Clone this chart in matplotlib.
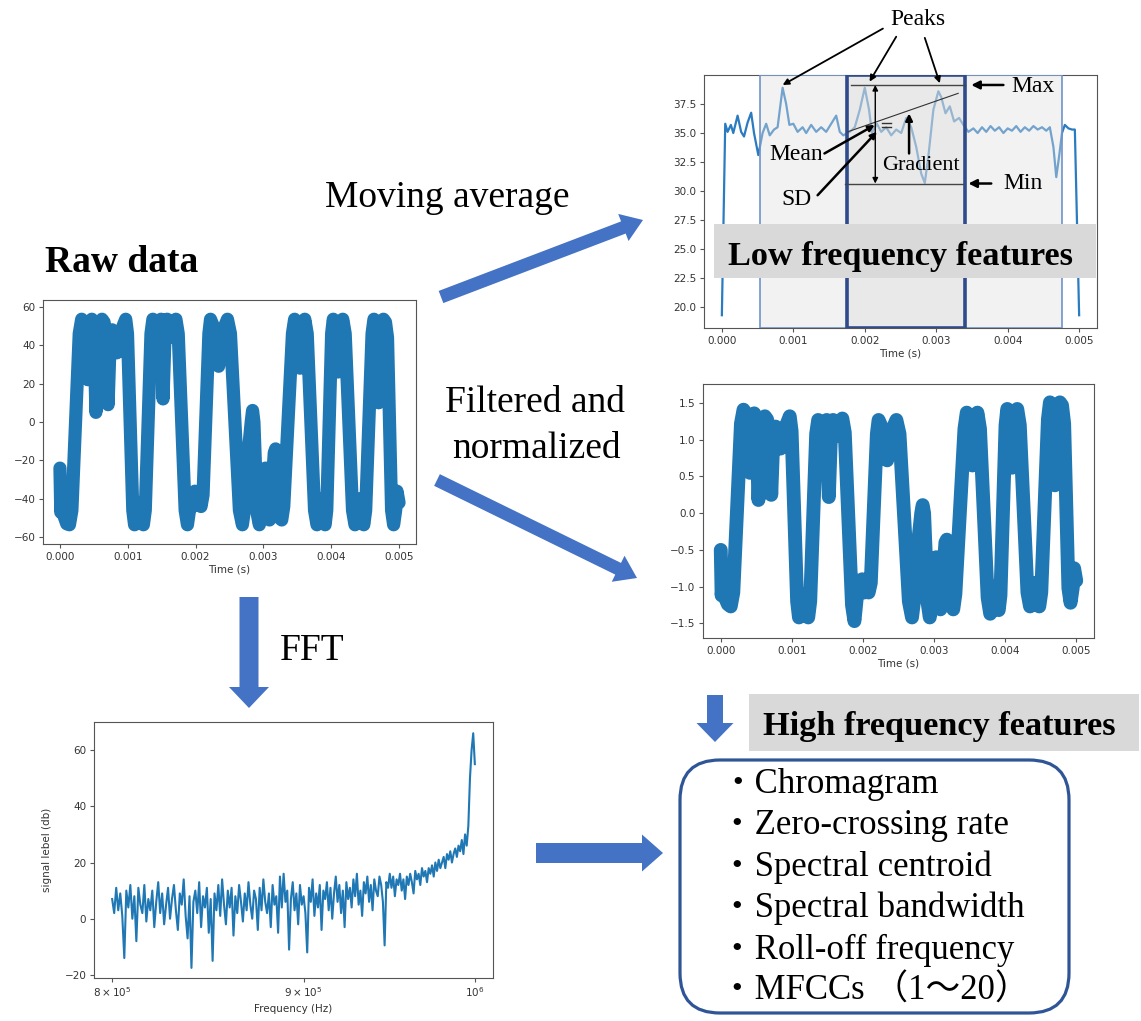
import numpy as np
import matplotlib
matplotlib.use("Agg")
import matplotlib.pyplot as plt
from matplotlib.patches import FancyArrow, FancyBboxPatch, Rectangle

# ---- values ----

# raw signal: centre of the thick band (time in ms)
raw_t_ms = [0.000, 0.012, 0.030, 0.060, 0.100, 0.140, 0.176, 0.284, 0.320, 0.350,
            0.380, 0.410, 0.440, 0.470, 0.500, 0.530, 0.560, 0.590, 0.620, 0.650,
            0.680, 0.710, 0.740, 0.770, 0.800, 0.820, 0.840, 0.860, 0.880, 0.900,
            0.930, 0.970, 0.996, 1.074, 1.100, 1.130, 1.160, 1.190, 1.230, 1.258,
            1.342, 1.370, 1.400, 1.430, 1.460, 1.490, 1.520, 1.550, 1.580, 1.610,
            1.640, 1.670, 1.710, 1.744, 1.846, 1.880, 1.910, 1.930, 1.960, 1.990,
            2.020, 2.050, 2.080, 2.110, 2.196, 2.220, 2.260, 2.300, 2.340, 2.380,
            2.430, 2.470, 2.514, 2.646, 2.690, 2.720, 2.760, 2.820, 2.840, 2.860,
            2.890, 2.910, 2.940, 2.970, 3.010, 3.030, 3.060, 3.090, 3.120, 3.160,
            3.180, 3.210, 3.240, 3.270, 3.300, 3.428, 3.460, 3.490, 3.520, 3.540,
            3.570, 3.610, 3.646, 3.754, 3.790, 3.820, 3.850, 3.880, 3.910, 3.934,
            4.006, 4.030, 4.060, 4.100, 4.130, 4.170, 4.206, 4.314, 4.350, 4.380,
            4.420, 4.450, 4.480, 4.508, 4.602, 4.630, 4.670, 4.700, 4.730, 4.770,
            4.800, 4.830, 4.890, 4.920, 4.950, 4.970, 5.000]
raw_amp = [-24, -47, -38, -49, -53, -53.5, -46, 46, 53.5, 52,
           44, 22, 46, 53.5, 50, 5, 40, 52, 53.5, 52,
           46, 9, 42, 48, 38, 46, 36, 45, 37, 44,
           50, 53.5, 46, -46, -53.5, -48, -42, -48, -53.5, -46,
           46, 53.5, 50, 44, 50, 53.5, 12, 46, 53.5, 50,
           44, 50, 53.5, 46, -46, -53.5, -46, -38, -44, -36,
           -43, -37, -44, -38, 46, 53.5, 50, 38, 29, 40,
           50, 53.5, 46, -46, -53.5, -46, -22, 0, 6, 0,
           -30, -48, -53.5, -44, -26, -24, -40, -51, -38, -16,
           -14, -34, -50, -51, -44, 46, 53.5, 50, 36, 28,
           44, 53.5, 46, -46, -53.5, -46, -40, -48, -53.5, -46,
           46, 53.5, 48, 26, 46, 53.5, 46, -46, -53.5, -46,
           -40, -48, -53.5, -46, 46, 53.5, 50, 10, 50, 53.5,
           52, 44, -46, -53.5, -46, -36, -42]

# filtered + normalized signal, same time base
norm_amp = [-0.50, -1.12, -0.90, -1.15, -1.24, -1.27, -1.08, 1.22, 1.41, 1.36,
            1.12, 0.55, 1.15, 1.36, 1.25, 0.18, 1.00, 1.28, 1.32, 1.28,
            1.15, 0.25, 1.05, 1.18, 0.92, 1.12, 0.88, 1.10, 0.90, 1.08,
            1.22, 1.32, 1.12, -1.20, -1.42, -1.25, -1.10, -1.25, -1.42, -1.20,
            1.08, 1.27, 1.18, 1.05, 1.18, 1.27, 0.22, 1.08, 1.27, 1.18,
            1.05, 1.20, 1.29, 1.10, -1.25, -1.47, -1.18, -0.92, -1.08, -0.90,
            -1.08, -0.92, -1.08, -0.95, 1.08, 1.27, 1.18, 0.90, 0.72, 0.95,
            1.18, 1.27, 1.08, -1.20, -1.42, -1.18, -0.55, 0.00, 0.11, 0.00,
            -0.75, -1.22, -1.42, -1.12, -0.65, -0.60, -1.00, -1.31, -0.95, -0.40,
            -0.36, -0.85, -1.25, -1.31, -1.10, 1.15, 1.37, 1.28, 0.90, 0.65,
            1.10, 1.37, 1.15, -1.15, -1.37, -1.15, -1.00, -1.20, -1.32, -1.12,
            1.20, 1.42, 1.28, 0.62, 1.20, 1.42, 1.20, -1.08, -1.27, -1.08,
            -0.95, -1.12, -1.27, -1.08, 1.28, 1.51, 1.42, 0.38, 1.42, 1.51,
            1.47, 1.22, -1.02, -1.22, -1.02, -0.75, -0.92]

# moving average
ma_t_ms = [0.00, 0.047, 0.08, 0.126, 0.16, 0.22, 0.27, 0.31, 0.36, 0.41,
           0.45, 0.51, 0.57, 0.62, 0.67, 0.73, 0.78, 0.85, 0.90, 0.945,
           1.00, 1.06, 1.13, 1.18, 1.25, 1.32, 1.39, 1.46, 1.53, 1.60,
           1.65, 1.70, 1.79, 1.86, 1.93, 2.00, 2.06, 2.10, 2.17, 2.23,
           2.30, 2.37, 2.44, 2.51, 2.58, 2.65, 2.72, 2.79, 2.84, 2.89,
           2.96, 3.03, 3.07, 3.13, 3.19, 3.25, 3.32, 3.38, 3.45, 3.52,
           3.58, 3.64, 3.70, 3.76, 3.82, 3.88, 3.94, 4.00, 4.06, 4.12,
           4.18, 4.24, 4.30, 4.36, 4.42, 4.48, 4.54, 4.59, 4.64, 4.68,
           4.72, 4.76, 4.80, 4.85, 4.90, 4.94, 5.00]
ma_amp = [19.3, 35.8, 35.1, 35.7, 35.0, 36.5, 35.1, 34.7, 35.9, 36.75,
          35.0, 33.1, 35.0, 35.8, 34.8, 35.3, 35.5, 38.9, 37.5, 35.7,
          35.8, 35.1, 35.5, 35.0, 35.7, 35.1, 35.5, 35.1, 35.8, 36.5,
          35.1, 34.8, 35.1, 35.5, 37.0, 38.9, 37.0, 35.0, 35.8, 35.1,
          35.5, 34.8, 35.3, 35.0, 36.3, 35.5, 33.8, 31.5, 30.7, 33.0,
          37.0, 38.6, 38.1, 36.7, 37.3, 36.0, 36.3, 35.7, 35.1, 35.4,
          35.0, 35.5, 35.1, 35.6, 35.2, 35.5, 35.0, 35.4, 35.2, 35.6,
          35.1, 35.5, 35.2, 35.6, 35.3, 35.5, 35.2, 35.5, 33.8, 31.2,
          33.0, 35.0, 35.7, 35.4, 35.3, 35.3, 19.3]

# spectrum, 1 kHz bins from 800 kHz to 1 MHz
fft_db = [7, 2, 11, 3, 9, 1, -14, 10, 4, 12,
          0, 8, -8, 11, 5, 2, 12, -1, 7, 3,
          10, -3, 6, 13, 2, 9, -2, 5, 11, 0,
          7, 12, 3, -4, 9, 5, 14, 1, -7, 8,
          -17.5, 6, 10, 2, 13, -3, 8, 4, 11, -5,
          7, -15, 9, 3, 12, 1, 14, 5, -2, 10,
          4, 11, -6, 8, 2, 12, 6, -1, 9, 3,
          13, 5, 0, 10, 7, -4, 11, 3, 14, 6,
          2, 9, -3, 12, 5, 8, -5, 15, 4, 16,
          6, 10, -11, 7, 13, 3, 9, -2, 12, 5,
          8, 2, -12, 11, 6, 14, 1, 9, 4, 12,
          -4, 10, 7, 13, 3, 11, 0, 9, 15, 6,
          12, 2, 10, -3, 13, 7, 11, 4, 14, 8,
          16, 5, 10, 1, 13, 9, 15, 6, 12, 3,
          14, 10, 8, 15, 12, 6, -9.5, 13, 11, 16,
          11, 15, 8, 14, 12, 16, 10, 14, 7, 15,
          12, 16, 13, 9, 17, 14, 16, 12, 18, 15,
          17, 13, 18, 16, 19, 15, 20, 17, 21, 18,
          20, 22, 18, 23, 21, 24, 20, 23, 25, 22,
          26, 24, 28, 23, 30, 26, 33, 50, 60, 66,
          55]
fft_freq = np.linspace(8e5, 1e6, len(fft_db))

# windows and feature marks on the moving-average plot (ms, value)
outer_win = (0.534, 4.76)
inner_win = (1.756, 3.40)
peak_tips = [(0.851, 39.14), (2.067, 39.43), (3.05, 39.29)]
max_level = 39.14
min_level = 30.65
grad_start = (1.763, 35.11)
grad_end = (3.307, 38.42)
mean_level = 35.85
sd_level = 35.55

features = ["Chromagram", "Zero-crossing rate", "Spectral centroid",
            "Spectral bandwidth", "Roll-off frequency", "MFCCs （1〜20）"]

# ---- drawing ----
W, H = 1141, 1021
SERIF = ["Liberation Serif", "Noto Sans CJK JP"]
BLUE = "#1f77b4"
ARROW = "#4472c4"
ms = 1e-3

fig = plt.figure(figsize=(W / 100, H / 100), dpi=100)


def box(left, top, right, bottom):
    return [left / W, 1 - bottom / H, (right - left) / W, (bottom - top) / H]


def style(ax):
    for s in ax.spines.values():
        s.set_color("#555555")
        s.set_linewidth(0.8)
    ax.tick_params(which="both", labelsize=7.5, colors="#555555",
                   labelcolor="#333333", length=3, width=0.8, pad=2.5)


def time_axis(ax):
    ax.set_xlim(-0.25 * ms, 5.25 * ms)
    ax.set_xticks([0, 0.001, 0.002, 0.003, 0.004, 0.005])
    ax.set_xlabel("Time (s)", fontsize=7.5, color="#333333", labelpad=2)


raw_t = np.array(raw_t_ms) * ms

# raw data
ax_raw = fig.add_axes(box(43, 300, 416, 544))
ax_raw.plot(raw_t, raw_amp, color=BLUE, lw=9.5,
            solid_joinstyle="round", solid_capstyle="round")
time_axis(ax_raw)
ax_raw.set_ylim(-63.5, 63.5)
ax_raw.set_yticks([-60, -40, -20, 0, 20, 40, 60])
style(ax_raw)

# moving average with windows
ax_ma = fig.add_axes(box(704, 75, 1097, 328))
ax_ma.plot(np.array(ma_t_ms) * ms, ma_amp, color="#2b7bc0", lw=1.6, zorder=2)
ax_ma.axvspan(outer_win[0] * ms, outer_win[1] * ms, facecolor=(0.88, 0.88, 0.88, 0.4),
              edgecolor="#6f92c9", lw=1.2, zorder=3)
ax_ma.axvspan(inner_win[0] * ms, inner_win[1] * ms, facecolor=(0.85, 0.85, 0.85, 0.35),
              edgecolor="#2f4b8c", lw=2.6, zorder=4)
time_axis(ax_ma)
ax_ma.set_ylim(18.2, 40.0)
ax_ma.set_yticks([20.0, 22.5, 25.0, 27.5, 30.0, 32.5, 35.0, 37.5])
style(ax_ma)

ann = dict(fontsize=17, family=SERIF, zorder=7)
ax_ma.text(2.745 * ms, 44.8, "Peaks", ha="center", va="center", **ann)
for tail, tip in zip([(2.254, 44.0), (2.44, 43.3), (2.84, 43.2)], peak_tips):
    ax_ma.annotate("", xy=(tip[0] * ms, tip[1]), xytext=(tail[0] * ms, tail[1]),
                   arrowprops=dict(arrowstyle="-|>", color="k", lw=1.3,
                                   mutation_scale=9, shrinkA=0, shrinkB=0),
                   annotation_clip=False, zorder=7)

ax_ma.plot([1.81 * ms, 3.40 * ms], [max_level] * 2, color="#444444", lw=1, zorder=6)
ax_ma.plot([1.72 * ms, 3.38 * ms], [min_level] * 2, color="#444444", lw=1, zorder=6)
ax_ma.annotate("", xy=(2.147 * ms, max_level), xytext=(2.147 * ms, min_level),
               arrowprops=dict(arrowstyle="<|-|>", color="k", lw=1,
                               mutation_scale=8, shrinkA=0, shrinkB=0), zorder=7)
ax_ma.annotate("", xy=(3.49 * ms, max_level), xytext=(3.94 * ms, max_level),
               arrowprops=dict(arrowstyle="-|>", color="k", lw=1.8,
                               mutation_scale=12, shrinkA=0, shrinkB=0),
               annotation_clip=False, zorder=7)
ax_ma.text(4.055 * ms, max_level - 0.15, "Max", va="center", **ann)
ax_ma.annotate("", xy=(3.45 * ms, min_level), xytext=(3.77 * ms, min_level),
               arrowprops=dict(arrowstyle="-|>", color="k", lw=1.8,
                               mutation_scale=12, shrinkA=0, shrinkB=0), zorder=7)
ax_ma.text(3.94 * ms, min_level, "Min", va="center", **ann)

ax_ma.plot([grad_start[0] * ms, grad_end[0] * ms], [grad_start[1], grad_end[1]],
           color="#333333", lw=0.8, zorder=6)
ax_ma.annotate("", xy=(2.62 * ms, 36.69), xytext=(2.62 * ms, 33.24),
               arrowprops=dict(arrowstyle="-|>", color="k", lw=1.8,
                               mutation_scale=10, shrinkA=0, shrinkB=0), zorder=7)
ax_ma.text(2.79 * ms, 32.2, "Gradient", ha="center", va="center",
           fontsize=16, family=SERIF, zorder=7)

ax_ma.plot([2.24 * ms, 2.37 * ms], [mean_level] * 2, color="#333333", lw=1, zorder=6)
ax_ma.plot([2.24 * ms, 2.37 * ms], [sd_level] * 2, color="#333333", lw=1, zorder=6)
ax_ma.text(1.04 * ms, 33.15, "Mean", ha="center", va="center", **ann)
ax_ma.annotate("", xy=(2.14 * ms, 35.69), xytext=(1.436 * ms, 33.24),
               arrowprops=dict(arrowstyle="-|>", color="k", lw=1.8,
                               mutation_scale=9, shrinkA=0, shrinkB=0), zorder=7)
ax_ma.text(1.04 * ms, 29.3, "SD", ha="center", va="center", **ann)
ax_ma.annotate("", xy=(2.17 * ms, 35.11), xytext=(1.34 * ms, 29.64),
               arrowprops=dict(arrowstyle="-|>", color="k", lw=1.8,
                               mutation_scale=9, shrinkA=0, shrinkB=0), zorder=7)

# filtered and normalized
ax_norm = fig.add_axes(box(703, 384, 1094, 638))
ax_norm.plot(raw_t, norm_amp, color=BLUE, lw=10,
             solid_joinstyle="round", solid_capstyle="round")
time_axis(ax_norm)
ax_norm.set_ylim(-1.70, 1.76)
ax_norm.set_yticks([-1.5, -1.0, -0.5, 0.0, 0.5, 1.0, 1.5])
style(ax_norm)

# spectrum
ax_fft = fig.add_axes(box(94, 722, 493, 978))
ax_fft.plot(fft_freq, fft_db, color=BLUE, lw=1.5)
ax_fft.set_xscale("log")
ax_fft.set_xlim(10 ** 5.89824, 10 ** 6.00485)
ax_fft.set_ylim(-21.1, 70)
ax_fft.set_yticks([-20, 0, 20, 40, 60])
ax_fft.set_xlabel("Frequency (Hz)", fontsize=7.5, color="#333333", labelpad=3)
ax_fft.set_ylabel("signal lebel (db)", fontsize=7.5, color="#333333", labelpad=9)
style(ax_fft)

# ---- overlay in pixel units for the diagram parts ----
ov = fig.add_axes([0, 0, 1, 1], zorder=10)
ov.set_xlim(0, W)
ov.set_ylim(H, 0)
ov.axis("off")
ov.patch.set_alpha(0)


def block_arrow(x0, y0, x1, y1, w, hw, hl):
    ov.add_patch(FancyArrow(x0, y0, x1 - x0, y1 - y0, width=w, head_width=hw,
                            head_length=hl, length_includes_head=True,
                            color=ARROW, lw=0))


block_arrow(441, 297, 643, 220, 13, 29, 21)
block_arrow(437, 480, 637, 578, 13, 29, 21)
block_arrow(249, 597, 249, 708, 19, 40, 21)
block_arrow(715, 695, 715, 742, 16, 37, 19)
block_arrow(536, 853, 663, 853, 20, 37, 21)

big = dict(fontsize=27, family=SERIF, va="baseline")
ov.text(45, 272, "Raw data", fontweight="bold", **big)
ov.text(325, 207, "Moving average", **big)
ov.text(535, 412, "Filtered and", ha="center", **big)
ov.text(536, 458, "normalized", ha="center", **big)
ov.text(280, 660, "FFT", **big)

ov.add_patch(Rectangle((714, 224), 382, 54, color="#d9d9d9", lw=0))
ov.text(728, 265, "Low frequency features", fontsize=24.7, fontweight="bold",
        family=SERIF, va="baseline")
ov.add_patch(Rectangle((749, 694), 390, 57, color="#d9d9d9", lw=0))
ov.text(763, 735, "High frequency features", fontsize=24.7, fontweight="bold",
        family=SERIF, va="baseline")

ov.add_patch(FancyBboxPatch((680, 760), 389, 253,
                            boxstyle="round,pad=0,rounding_size=40",
                            fc="white", ec="#2f5597", lw=2.3))
for i, name in enumerate(features):
    ov.text(720, 793 + i * 41.4, "・" + name, fontsize=25, family=SERIF,
            va="baseline")

fig.savefig("out.png", dpi=100)
